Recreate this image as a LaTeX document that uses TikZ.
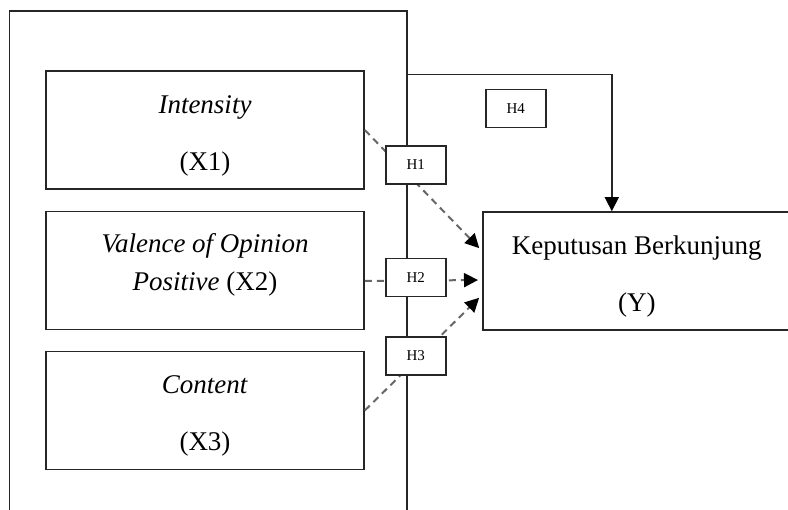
\documentclass[tikz,border=0pt]{standalone}
\usepackage{fontspec}
\setmainfont{Liberation Serif}
\usetikzlibrary{arrows.meta,positioning}

\begin{document}
\begin{tikzpicture}[
    x=1pt, y=-1pt,
    every node/.style={font=\fontsize{27}{33}\selectfont},
    var/.style={draw=black!85, line width=1.6pt, minimum width=318pt, minimum height=118pt, inner sep=0pt, align=center},
    hyp/.style={draw=black!85, fill=white, line width=1.6pt, minimum width=60pt, minimum height=38pt, inner sep=0pt, font=\fontsize{15}{17}\selectfont},
    frame/.style={draw=black!85, line width=1.6pt},
    effect/.style={dash pattern=on 7pt off 5pt, line width=2pt, draw=black!60, shorten >=4pt, -{Triangle[length=14pt,width=14pt,color=black]}},
    cause/.style={draw=black!85, line width=1.6pt, -{Triangle[length=14pt,width=14pt,color=black]}}
  ]
    \clip (0,0) rectangle (788,510);
    \draw[frame] (9.5,520) -- (9.5,11) -- (407,11) -- (407,520);
    \coordinate (fr) at (407,74.5);

    \node[var] (x1) at (205,130) {\rule{0pt}{29pt}\textit{Intensity}\\[24pt](X1)};
    \node[var] (x2) at (205,270.5) {\textit{Valence of Opinion}\\[5pt]\textit{Positive} (X2)\rule[-18pt]{0pt}{18pt}};
    \node[var] (x3) at (205,410.5) {\rule{0pt}{29pt}\textit{Content}\\[24pt](X3)};
    \node[var, minimum width=308pt, anchor=west] (y) at (482,271) {\rule{0pt}{30pt}Keputusan Berkunjung\\[24pt](Y)};

    \draw[effect] (x1.east) -- ([yshift=20pt]y.west);
    \draw[effect] ([yshift=-10.5pt]x2.east) -- ([yshift=-9pt]y.west);
    \draw[effect] (x3.east) -- ([yshift=-24pt]y.west);

    \node[hyp] (h1) at (415.7,165) {H1};
    \node[hyp] (h2) at (415.7,277.5) {H2};
    \node[hyp] (h3) at (415.7,356) {H3};
    \node[hyp] (h4) at (515.7,108.5) {H4};

    \draw[cause] (fr) -| ([xshift=-25pt]y.north);
  \end{tikzpicture}
\end{document}
